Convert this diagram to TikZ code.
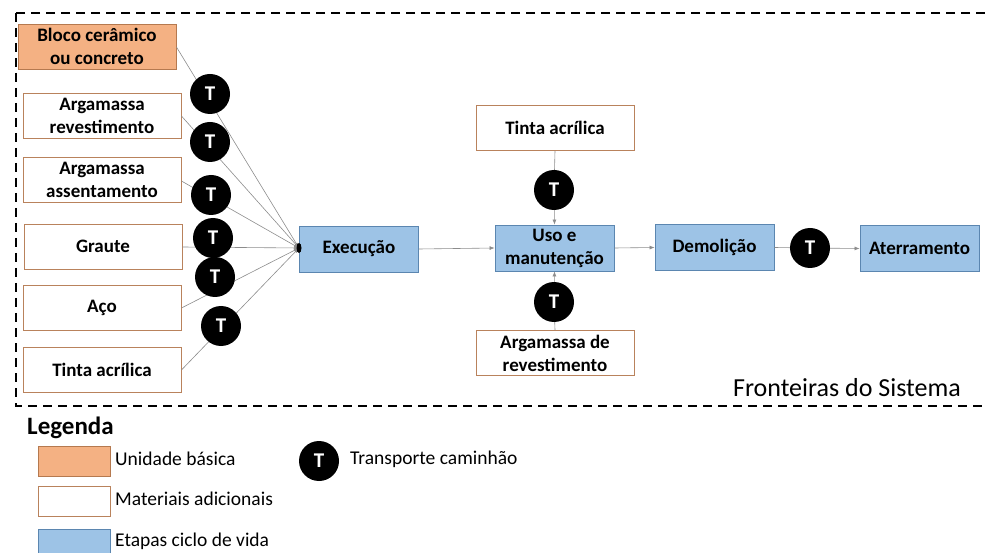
\documentclass[tikz,border=0pt]{standalone}
\usepackage{fontspec}
\setmainfont{Carlito}
\usetikzlibrary{arrows.meta}
\definecolor{orangefill}{HTML}{F4B183}
\definecolor{orangeline}{HTML}{B5794F}
\definecolor{matline}{HTML}{B9825C}
\definecolor{bluefill}{HTML}{9DC3E6}
\definecolor{blueline}{HTML}{5B86B0}
\definecolor{linkgray}{HTML}{8C8C8C}
\tikzset{
  box/.style={draw, line width=0.9pt, minimum width=158pt, minimum height=45pt,
    align=center, inner sep=1pt, font=\bfseries\fontsize{19}{23}\selectfont},
  basebox/.style={box, fill=orangefill, draw=orangeline},
  matbox/.style={box, fill=white, draw=matline},
  stagebox/.style={box, fill=bluefill, draw=blueline, minimum width=119pt, minimum height=46pt},
  tcircle/.style={circle, fill=black, minimum size=40pt, inner sep=0pt,
    text=white, font=\bfseries\fontsize{21}{24}\selectfont},
  link/.style={draw=linkgray, line width=0.6pt},
  flow/.style={link, -{Latex[length=5pt,width=4pt]}},
  legbox/.style={draw, line width=0.9pt, minimum width=72pt, minimum height=30pt, inner sep=0pt},
  legtext/.style={anchor=west, font=\fontsize{19.5}{23}\selectfont, inner sep=0pt},
}
\begin{document}
\begin{tikzpicture}[x=1pt,y=-1pt]
\useasboundingbox (0,0) rectangle (985,553);
\begin{scope}
\clip (0,0) rectangle (985,553);
% system boundary
\draw[dashed, dash pattern=on 9pt off 6pt, line width=1.6pt] (16,13) rectangle (1000,406);
% raw materials
\node[basebox] (bloco) at (97,46.5) {Bloco cerâmico\\ou concreto};
\node[matbox] (argrev) at (102,115.5) {Argamassa\\revestimento};
\node[matbox] (argass) at (102,179.5) {Argamassa\\assentamento};
\node[matbox] (graute) at (103,246.5) {Graute};
\node[matbox] (aco) at (102,307.5) {Aço};
\node[matbox] (tinta) at (102,369.5) {Tinta acrílica};
% life-cycle stages
\node[stagebox] (exec) at (359,249) {Execução};
\node[stagebox] (uso) at (554.5,248) {Uso e\\manutenção};
\node[stagebox] (demol) at (714.5,247.5) {Demolição};
\node[stagebox] (aterro) at (919.5,248.5) {Aterramento};
% materials for use and maintenance
\node[matbox] (tintauso) at (555,128) {Tinta acrílica};
\node[matbox] (argauso) at (555,353) {Argamassa de\\revestimento};
% convergence point in front of Execução
\coordinate (conv) at (299,248);
% transport links into Execução
\draw[flow] (bloco.east |- 0,47) -- (conv);
\draw[flow] (argrev.east |- 0,116) -- (conv);
\draw[flow] (argass.east |- 0,181) -- (conv);
\draw[flow] (graute.east |- 0,247) -- (conv);
\draw[flow] (aco.east |- 0,308) -- (conv);
\draw[flow] (tinta.east |- 0,370) -- (conv);
\fill (conv) ellipse (2.5pt and 5pt);
\node[tcircle] (t1) at (210,94) {T};
\node[tcircle] (t2) at (210,142) {T};
\node[tcircle] (t3) at (211,195) {T};
\node[tcircle] (t4) at (213,238) {T};
\node[tcircle] (t5) at (215,277) {T};
\node[tcircle] (t6) at (221,326) {T};
% stage flow
\draw[flow] (exec.east) -- (uso.west);
\draw[flow] (uso.east) -- (demol.west);
\node[tcircle] (t7) at (810,248) {T};
\draw[link] (demol.east) -- (t7);
\draw[flow] (t7) -- (aterro.west);
\node[tcircle] (t8) at (554,190) {T};
\draw[link] (tintauso.south) -- (t8);
\draw[flow] (t8) -- (uso.north);
\node[tcircle] (t9) at (554,302) {T};
\draw[link] (argauso.north) -- (t9);
\draw[flow] (t9) -- (uso.south);
\node[anchor=base east, font=\fontsize{26}{30}\selectfont, inner sep=0pt] (front) at (961,396) {Fronteiras do Sistema};
% legend
\node[anchor=base west, font=\bfseries\fontsize{25}{30}\selectfont, inner sep=0pt] (leg) at (27,434) {Legenda};
\node[legbox, fill=orangefill, draw=orangeline] (lg1) at (74,461) {};
\node[legbox, fill=white, draw=matline] (lg2) at (74,501) {};
\node[legbox, fill=bluefill, draw=blueline, anchor=north] (lg3) at (74,529) {};
\node[legtext] (lt1) at (115,459) {Unidade básica};
\node[legtext] (lt2) at (115,499) {Materiais adicionais};
\node[legtext] (lt3) at (115,541) {Etapas ciclo de vida};
\node[tcircle] (lgt) at (319,461) {T};
\node[legtext] (lt4) at (350,459) {Transporte caminhão};
\end{scope}
\end{tikzpicture}
\end{document}
